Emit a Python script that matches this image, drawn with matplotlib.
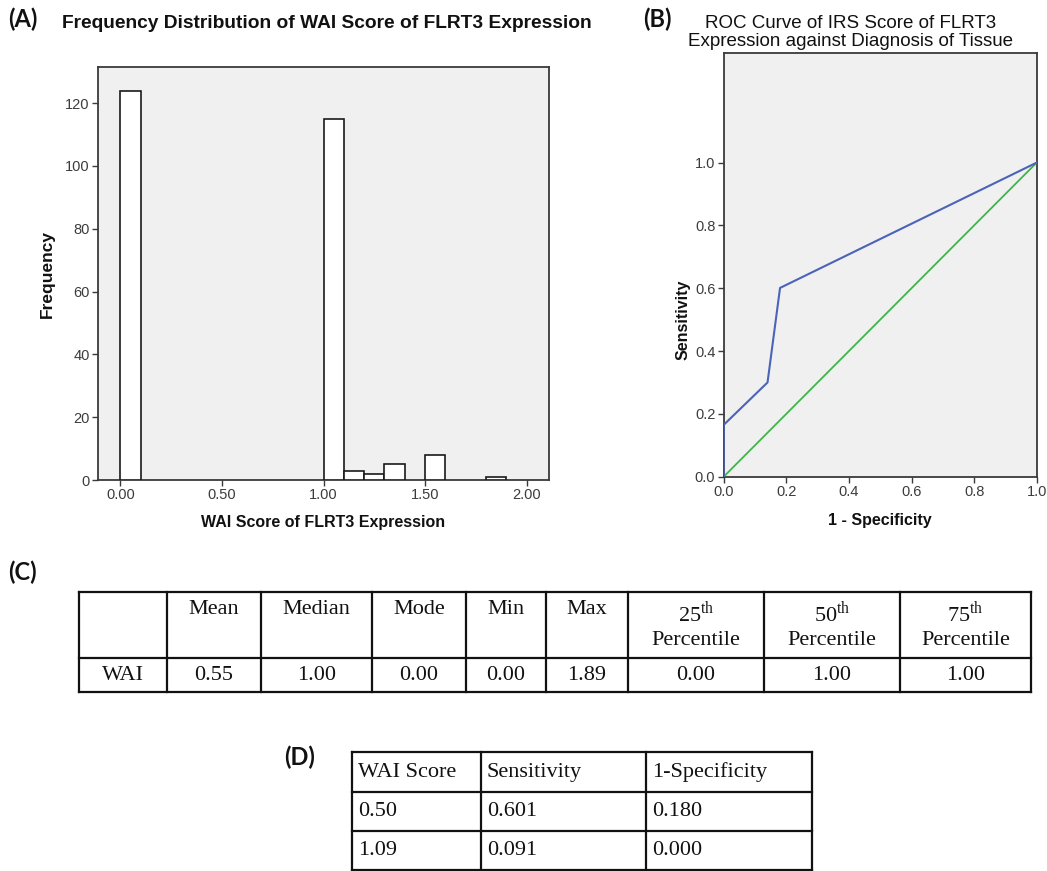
import matplotlib
matplotlib.use("Agg")
import matplotlib.pyplot as plt

plt.rcParams['mathtext.fontset'] = 'custom'
plt.rcParams['mathtext.rm'] = 'Liberation Serif'

# ---- Histogram data (WAI score bins, width 0.1) ----
bin_left = [0.0, 1.0, 1.1, 1.2, 1.3, 1.5, 1.8]
bin_counts = [124, 115, 3, 2, 5, 8, 1]
bin_width = 0.1
hist_xticks = [0.0, 0.5, 1.0, 1.5, 2.0]
hist_yticks = [0, 20, 40, 60, 80, 100, 120]

# ---- ROC curve data ----
roc_fpr = [0.0, 0.0, 0.14, 0.180, 1.0]
roc_tpr = [0.0, 0.165, 0.30, 0.601, 1.0]
ref_line = [0.0, 1.0]
roc_ticks = [0.0, 0.2, 0.4, 0.6, 0.8, 1.0]

# ---- Descriptive statistics table ----
stat_headers = ["", "Mean", "Median", "Mode", "Min", "Max",
                "25$^{\\mathrm{th}}$\nPercentile",
                "50$^{\\mathrm{th}}$\nPercentile",
                "75$^{\\mathrm{th}}$\nPercentile"]
stat_values = ["WAI", "0.55", "1.00", "0.00", "0.00", "1.89", "0.00", "1.00", "1.00"]

# ---- Cut-off table ----
cut_headers = ["WAI Score", "Sensitivity", "1-Specificity"]
cut_rows = [["0.50", "0.601", "0.180"],
            ["1.09", "0.091", "0.000"]]

W, H = 1047, 871
fig = plt.figure(figsize=(W / 100, H / 100), dpi=100)
fig.patch.set_facecolor('white')

SANS = 'Liberation Sans'
SERIF = 'Liberation Serif'
LBL = 'Lato'
BG = '#f0f0f0'
SPINE = '#3a3a3a'
TICKC = '#3c3c3c'
TXT = '#111111'


def ax_rect(left, top, right, bottom):
    return [left / W, 1 - bottom / H, (right - left) / W, (bottom - top) / H]


def style_axes(ax):
    ax.set_facecolor(BG)
    for s in ax.spines.values():
        s.set_color(SPINE)
        s.set_linewidth(1.3)
    ax.tick_params(direction='out', length=4.5, width=1.0, color=SPINE,
                   labelsize=10.5, labelcolor=TICKC, pad=1.5)
    for t in ax.get_xticklabels() + ax.get_yticklabels():
        t.set_fontfamily(SANS)


# ---- (A) Histogram ----
ax1 = fig.add_axes(ax_rect(98, 67, 549, 480))
ax1.bar(bin_left, bin_counts, width=bin_width, align='edge',
        facecolor='white', edgecolor='#1a1a1a', linewidth=1.2, zorder=3)
ax1.set_xlim(-0.11, 2.11)
ax1.set_ylim(0, 131.5)
ax1.set_xticks(hist_xticks)
ax1.set_xticklabels([f"{v:.2f}" for v in hist_xticks])
ax1.set_yticks(hist_yticks)
style_axes(ax1)
ax1.set_xlabel("WAI Score of FLRT3 Expression", fontfamily=SANS,
               fontweight='bold', fontsize=11.5, color=TXT, labelpad=9)
ax1.set_ylabel("Frequency", fontfamily=SANS, fontweight='bold',
               fontsize=12.5, color=TXT, labelpad=7)

# ---- (B) ROC curve ----
ax2 = fig.add_axes(ax_rect(723.7, 53.3, 1036.7, 476.7))
ax2.plot(ref_line, ref_line, color='#3fb54a', linewidth=1.3, zorder=3)
ax2.plot(roc_fpr, roc_tpr, color='#4b63b8', linewidth=1.5, zorder=4)
ax2.set_xlim(0, 1)
ax2.set_ylim(0, 1.348)
ax2.set_xticks(roc_ticks)
ax2.set_yticks(roc_ticks)
ax2.set_xticklabels([f"{v:.1f}" for v in roc_ticks])
ax2.set_yticklabels([f"{v:.1f}" for v in roc_ticks])
style_axes(ax2)
ax2.set_xlabel("1 - Specificity", fontfamily=SANS, fontweight='bold',
               fontsize=11.5, color=TXT, labelpad=10)
ax2.set_ylabel("Sensitivity", fontfamily=SANS, fontweight='bold',
               fontsize=11.5, color=TXT)
ax2.yaxis.set_label_coords(-0.105, 0.5 / 1.348)

# ---- Overlay in pixel coordinates for titles, labels and tables ----
ov = fig.add_axes([0, 0, 1, 1], zorder=10)
ov.set_xlim(0, W)
ov.set_ylim(H, 0)
ov.axis('off')
ov.patch.set_alpha(0)

ov.text(8, 19, "(A)", fontfamily=LBL, fontweight='bold', fontsize=17,
        va='center', ha='left', color=TXT)
ov.text(327, 24, "Frequency Distribution of WAI Score of FLRT3 Expression",
        fontfamily=SANS, fontweight='bold', fontsize=13.8, va='center',
        ha='center', color=TXT)
ov.text(643, 19, "(B)", fontfamily=LBL, fontweight='bold', fontsize=17,
        va='center', ha='left', color=TXT)
ov.text(851, 23, "ROC Curve of IRS Score of FLRT3", fontfamily=SANS,
        fontsize=13.5, va='center', ha='center', color=TXT)
ov.text(851, 42, "Expression against Diagnosis of Tissue", fontfamily=SANS,
        fontsize=13.5, va='center', ha='center', color=TXT)
ov.text(8, 572, "(C)", fontfamily=LBL, fontweight='bold', fontsize=17,
        va='center', ha='left', color=TXT)
ov.text(284, 757, "(D)", fontfamily=LBL, fontweight='bold', fontsize=17,
        va='center', ha='left', color=TXT)

LINE = '#111111'

# Table C
c_cols = [79, 167, 261, 372, 466, 546, 628, 764, 900, 1031]
c_rows = [592, 658, 692]
for x in c_cols:
    ov.plot([x, x], [c_rows[0], c_rows[-1]], color=LINE, linewidth=1.6,
            solid_capstyle='projecting')
for y in c_rows:
    ov.plot([c_cols[0], c_cols[-1]], [y, y], color=LINE, linewidth=1.6,
            solid_capstyle='projecting')
for i, head in enumerate(stat_headers):
    cx = (c_cols[i] + c_cols[i + 1]) / 2
    ov.text(cx, 600, head, fontfamily=SERIF, fontsize=16, ha='center',
            va='top', color=TXT, linespacing=1.3)
    ov.text(cx, 675, stat_values[i], fontfamily=SERIF, fontsize=16,
            ha='center', va='center', color=TXT)

# Table D
d_cols = [352, 481, 646, 812]
d_rows = [752, 792, 831, 870]
for x in d_cols:
    ov.plot([x, x], [d_rows[0], d_rows[-1]], color=LINE, linewidth=1.6,
            solid_capstyle='projecting')
for y in d_rows:
    ov.plot([d_cols[0], d_cols[-1]], [y, y], color=LINE, linewidth=1.6,
            solid_capstyle='projecting')
table_d = [cut_headers] + cut_rows
for r, row in enumerate(table_d):
    cy = (d_rows[r] + d_rows[r + 1]) / 2
    for c, val in enumerate(row):
        ov.text(d_cols[c] + 6, cy, val, fontfamily=SERIF, fontsize=16,
                ha='left', va='center', color=TXT)

fig.savefig("out.png", dpi=100, facecolor='white')
